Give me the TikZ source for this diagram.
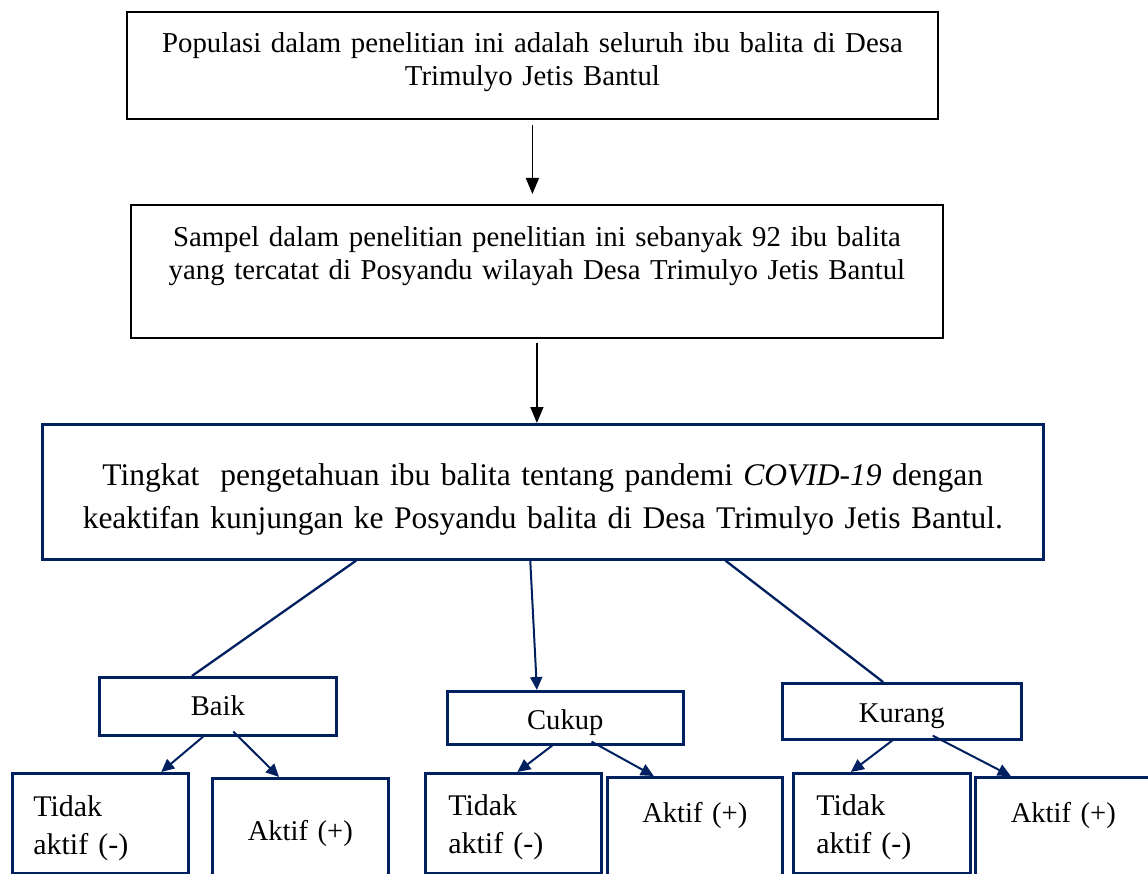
\documentclass[tikz,border=0pt]{standalone}
\usepackage{fontspec}
\setmainfont{Liberation Serif}
\usetikzlibrary{calc}
\usetikzlibrary{arrows.meta}

\definecolor{navy}{RGB}{0,32,96}

\begin{document}
\begin{tikzpicture}[x=1pt,y=-1pt,
  box/.style={draw,line width=1.8pt,inner sep=0pt,anchor=north west},
  navybox/.style={box,draw=navy,line width=2.6pt},
  arr/.style={-{Triangle[length=16pt,width=13pt]},line width=1.6pt},
  navyarr/.style={-{Triangle[length=13pt,width=12pt]},line width=2pt,color=navy},
  link/.style={line width=2.3pt,color=navy}]

\def\topfont{\fontsize{28.8}{33}\selectfont}
\def\midfont{\fontsize{31.5}{43}\selectfont}
\def\smallfont{\fontsize{28.6}{33}\selectfont}
\def\tidakfont{\fontsize{30}{38}\selectfont}

\useasboundingbox (0,0) rectangle (1148,874);
\clip (0,0) rectangle (1148,874);

\node [box,text width=811pt,align=center,text height=41pt,text depth=66pt,font=\topfont] (pop) at (126,11) {Populasi dalam penelitian ini adalah seluruh ibu balita di Desa\\Trimulyo Jetis Bantul};

\node [box,text width=812pt,align=center,text height=42pt,text depth=91pt,font=\topfont] (sampel) at (130,204) {Sampel dalam penelitian penelitian ini sebanyak 92 ibu balita\\yang tercatat di Posyandu wilayah Desa Trimulyo Jetis Bantul};

\node [navybox,text width=1001pt,align=center,text height=61pt,text depth=74pt,font=\midfont] (tingkat) at (41,423) {Tingkat\ \ pengetahuan ibu balita tentang pandemi \textit{COVID-19} dengan\\keaktifan kunjungan ke Posyandu balita di Desa Trimulyo Jetis Bantul.};

\draw [arr,shorten <=5pt,shorten >=10pt] (pop.south) -- (pop.south |- sampel.north);
\draw [arr,shorten <=4pt] (sampel.south) -- (sampel.south |- tingkat.north);

% kategori pengetahuan
\node [navybox,text width=237pt,align=center,text height=38pt,text depth=20pt,font=\smallfont] (baik) at (98,676) {Baik};
\node [navybox,text width=236pt,align=center,text height=38pt,text depth=15pt,font=\smallfont] (cukup) at (446,690) {Cukup};
\node [navybox,text width=239pt,align=center,text height=39pt,text depth=17pt,font=\smallfont] (kurang) at (781,682) {Kurang};

\draw [link] ($(tingkat.south west)!0.314!(tingkat.south east)$) -- ($(baik.north west)!0.392!(baik.north east)$);
\draw [navyarr] ($(tingkat.south west)!0.4875!(tingkat.south east)$) -- ($(cukup.north west)!0.381!(cukup.north east)$);
\draw [link] ($(tingkat.south west)!0.682!(tingkat.south east)$) -- ($(kurang.north west)!0.4226!(kurang.north east)$);

% keaktifan kunjungan
\node [navybox,inner xsep=21pt,text width=134pt,align=left,text height=43pt,text depth=57pt,font=\tidakfont] (tidakBaik) at (11,772) {Tidak\\aktif (-)};
\node [navybox,text width=176pt,align=center,text height=62pt,text depth=58pt,font=\smallfont] (aktifBaik) at (211,777) {Aktif (+)};

\node [navybox,inner xsep=23pt,text width=130pt,align=left,text height=42pt,text depth=58pt,font=\tidakfont] (tidakCukup) at (424,772) {Tidak\\aktif (-)};
\node [navybox,text width=175pt,align=center,text height=45pt,text depth=75pt,font=\smallfont] (aktifCukup) at (606,776) {Aktif (+)};

\node [navybox,inner xsep=23pt,text width=131pt,align=left,text height=42pt,text depth=58pt,font=\tidakfont] (tidakKurang) at (792,772) {Tidak\\aktif (-)};
\node [navybox,text width=176pt,align=center,text height=45pt,text depth=75pt,font=\smallfont] (aktifKurang) at (974,776) {Aktif (+)};

\draw [navyarr] ($(baik.south west)!0.439!(baik.south east)$) -- ($(tidakBaik.north west)!0.841!(tidakBaik.north east)$);
\draw [navyarr] ([yshift=5pt]$(baik.south west)!0.565!(baik.south east)$) -- ($(aktifBaik.north west)!0.381!(aktifBaik.north east)$);
\draw [navyarr] ($(cukup.south west)!0.445!(cukup.south east)$) -- ($(tidakCukup.north west)!0.523!(tidakCukup.north east)$);
\draw [navyarr] ([yshift=4pt]$(cukup.south west)!0.61!(cukup.south east)$) -- ($(aktifCukup.north west)!0.269!(aktifCukup.north east)$);
\draw [navyarr] ($(kurang.south west)!0.46!(kurang.south east)$) -- ($(tidakKurang.north west)!0.328!(tidakKurang.north east)$);
\draw [navyarr] ([yshift=5pt]$(kurang.south west)!0.628!(kurang.south east)$) -- ($(aktifKurang.north west)!0.206!(aktifKurang.north east)$);
\end{tikzpicture}
\end{document}
